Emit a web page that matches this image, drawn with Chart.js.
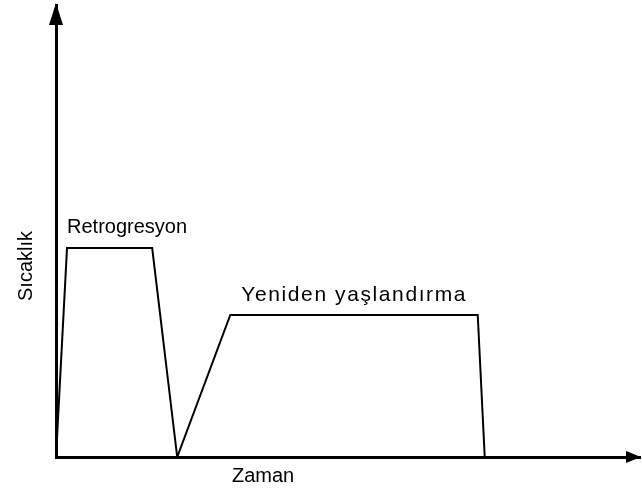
<!DOCTYPE html>
<html>
<head>
<meta charset="utf-8">
<script src="https://cdn.jsdelivr.net/npm/chart.js@4/dist/chart.umd.min.js"></script>
<style>
  html, body { margin: 0; padding: 0; background: #fff; }
  #wrap { width: 642px; height: 491px; }
</style>
</head>
<body>
<div id="wrap"><canvas id="c" width="642" height="491"></canvas></div>
<script>
// Time (arbitrary units) and temperature (arbitrary units)
const timeValues = [0, 11, 96, 121, 174, 421, 428];
const tempValues = [0, 209, 209, 0, 142, 142, 0];
const xAxisTitle = "Zaman";
const yAxisTitle = "Sıcaklık";
const stageLabels = ["Retrogresyon", "Yeniden yaşlandırma"];
const stageLabelAnchors = [[11, 209], [185, 142]];

const points = timeValues.map((t, i) => ({ x: t, y: tempValues[i] }));
const FONT = '"Liberation Sans", Arial, sans-serif';

const decor = {
  id: 'decor',
  afterDraw(chart) {
    const { ctx, chartArea: a, scales: { x, y } } = chart;
    ctx.save();
    ctx.fillStyle = '#000';
    // arrow heads
    ctx.beginPath();
    ctx.moveTo(a.left, a.top - 2);
    ctx.lineTo(a.left - 7, a.top + 20);
    ctx.lineTo(a.left + 7, a.top + 20);
    ctx.closePath();
    ctx.fill();
    ctx.beginPath();
    ctx.moveTo(a.right + 1, a.bottom);
    ctx.lineTo(a.right - 14, a.bottom - 6);
    ctx.lineTo(a.right - 14, a.bottom + 6);
    ctx.closePath();
    ctx.fill();
    // texts
    ctx.font = '20px ' + FONT;
    ctx.textBaseline = 'alphabetic';
    ctx.textAlign = 'left';
    ctx.fillText(stageLabels[0], x.getPixelForValue(stageLabelAnchors[0][0]), y.getPixelForValue(stageLabelAnchors[0][1]) - 15);
    ctx.font = '21px ' + FONT;
    ctx.letterSpacing = '1.6px';
    ctx.fillText(stageLabels[1], x.getPixelForValue(stageLabelAnchors[1][0]), y.getPixelForValue(stageLabelAnchors[1][1]) - 14);
    ctx.letterSpacing = '0px';
    ctx.font = '20px ' + FONT;
    ctx.fillText(xAxisTitle, 232, a.bottom + 25);
    ctx.translate(32, 266);
    ctx.rotate(-Math.PI / 2);
    ctx.textAlign = 'center';
    ctx.fillText(yAxisTitle, 0, 0);
    ctx.restore();
  }
};

new Chart(document.getElementById('c'), {
  type: 'scatter',
  data: {
    datasets: [{
      data: points,
      showLine: true,
      borderColor: '#000',
      borderWidth: 2,
      pointRadius: 0,
      fill: false,
      tension: 0
    }]
  },
  options: {
    responsive: false,
    animation: false,
    layout: { padding: { left: 56, right: 2, top: 5, bottom: 34 } },
    plugins: { legend: { display: false }, tooltip: { enabled: false } },
    scales: {
      x: {
        type: 'linear', min: 0, max: 583,
        grid: { display: false, drawTicks: false },
        border: { display: true, color: '#000', width: 3 },
        ticks: { display: false }
      },
      y: {
        type: 'linear', min: 0, max: 452,
        grid: { display: false, drawTicks: false },
        border: { display: true, color: '#000', width: 3 },
        ticks: { display: false }
      }
    }
  },
  plugins: [decor]
});
</script>
</body>
</html>
